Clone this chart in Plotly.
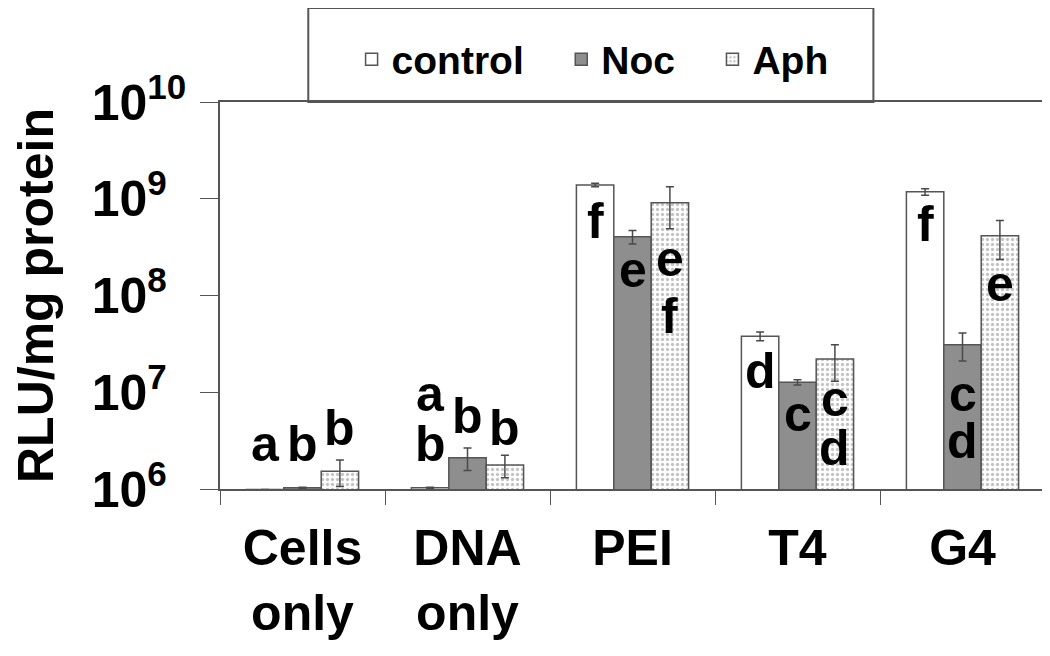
import numpy as np
import plotly.graph_objects as go

groups = ["Cells<br>only", "DNA<br>only", "PEI", "T4", "G4"]

control = [0.99e6, 1.03e6, 1.39e9, 3.8e7, 1.18e9]
control_err = [0, 0.01e6, 0.06e9, 0.4e7, 0.09e9]
noc = [1.03e6, 2.1e6, 4.05e8, 1.27e7, 3.1e7]
noc_err = [0.01e6, 0.55e6, 0.65e8, 0.08e7, 1.0e7]
aph = [1.53e6, 1.77e6, 9.1e8, 2.2e7, 4.15e8]
aph_err = [0.47e6, 0.46e6, 4.2e8, 0.9e7, 1.8e8]

# significance letters: (group, series index, letter)
letters = [
    (0, 0, "a"), (0, 1, "b"), (0, 2, "b"),
    (1, 0, "a"), (1, 0, "b"), (1, 1, "b"), (1, 2, "b"),
    (2, 0, "f"), (2, 1, "e"), (2, 2, "e"), (2, 2, "f"),
    (3, 0, "d"), (3, 1, "c"), (3, 2, "c"), (3, 2, "d"),
    (4, 0, "f"), (4, 1, "c"), (4, 1, "d"), (4, 2, "e"),
]
# baseline of each letter, log10 units
letter_pos = [6.28, 6.28, 6.44,
              6.80, 6.28, 6.57, 6.44,
              8.58, 8.08, 8.19, 7.60,
              7.03, 6.59, 6.74, 6.24,
              8.55, 6.80, 6.31, 7.93]

font = "Arial, Liberation Sans, sans-serif"
err_style = dict(type="data", color="#4a4a4a", thickness=1.5, width=4)
edge = dict(color="#555555", width=1.5)
pad = "\u00a0\u00a0\u00a0"

fig = go.Figure()
fig.add_trace(go.Bar(name="control" + pad, x=groups, y=control,
                     error_y=dict(array=control_err, **err_style),
                     marker=dict(color="white", line=edge)))
fig.add_trace(go.Bar(name="Noc" + pad, x=groups, y=noc,
                     error_y=dict(array=noc_err, **err_style),
                     marker=dict(color="#8e8e8e", line=edge)))
fig.add_trace(go.Bar(name="Aph", x=groups, y=aph,
                     error_y=dict(array=aph_err, **err_style),
                     marker=dict(color="white", line=edge,
                                 pattern=dict(shape=".", fgcolor="#8a8a8a", bgcolor="white",
                                              size=5, solidity=0.35))))

offsets = [-37, 0, 37]
for (g, s, txt), ly in zip(letters, letter_pos):
    fig.add_annotation(x=groups[g], y=ly, text=txt, showarrow=False, yanchor="bottom",
                       xshift=offsets[s], yshift=-11, borderpad=0,
                       font=dict(family=font, size=50, color="black", weight="bold"))

# legend frame
fig.add_shape(type="rect", xref="paper", yref="paper", x0=0.107, x1=0.792, y0=1.0, y1=1.243,
              line=dict(color="#555555", width=2), fillcolor="white", layer="below")

tickvals = [1e6, 1e7, 1e8, 1e9, 1e10]
ticktext = []
for v in tickvals:
    e = int(np.log10(v))
    sp = "" if e >= 10 else "\u00a0\u00a0"
    ticktext.append("10<sup>%d%s</sup>" % (e, sp))

# page body has an 8px margin, so the figure is 8px smaller each way
fig.update_layout(
    width=1042, height=648,
    margin=dict(l=212, r=5, t=94, b=167),
    plot_bgcolor="white", paper_bgcolor="white",
    barmode="group", bargap=0.32, bargroupgap=0,
    font=dict(family=font, color="black"),
    showlegend=True,
    legend=dict(orientation="h", x=0.1595, y=1.11, xanchor="left", yanchor="middle",
                bgcolor="rgba(0,0,0,0)", font=dict(size=39, family=font, weight="bold"),
                itemwidth=30),
    xaxis=dict(showline=True, linecolor="#555555", linewidth=1.5, mirror=True,
               ticks="outside", tickson="boundaries", ticklen=14, tickcolor="#555555",
               tickfont=dict(size=50, family=font, weight="bold"), ticklabelstandoff=14,
               automargin=False),
    yaxis=dict(type="log", range=[6, 10], showline=True, linecolor="#555555", linewidth=1.5,
               ticks="outside", ticklen=18, tickcolor="#555555", showgrid=False,
               tickvals=tickvals, ticktext=ticktext,
               tickfont=dict(size=50, family=font, weight="bold"), ticklabelstandoff=4,
               automargin=False,
               title=dict(text="\u00a0\u00a0RLU/mg protein",
                          font=dict(size=50, family=font, weight="bold"), standoff=23)),
)

fig.write_html("out.html")
